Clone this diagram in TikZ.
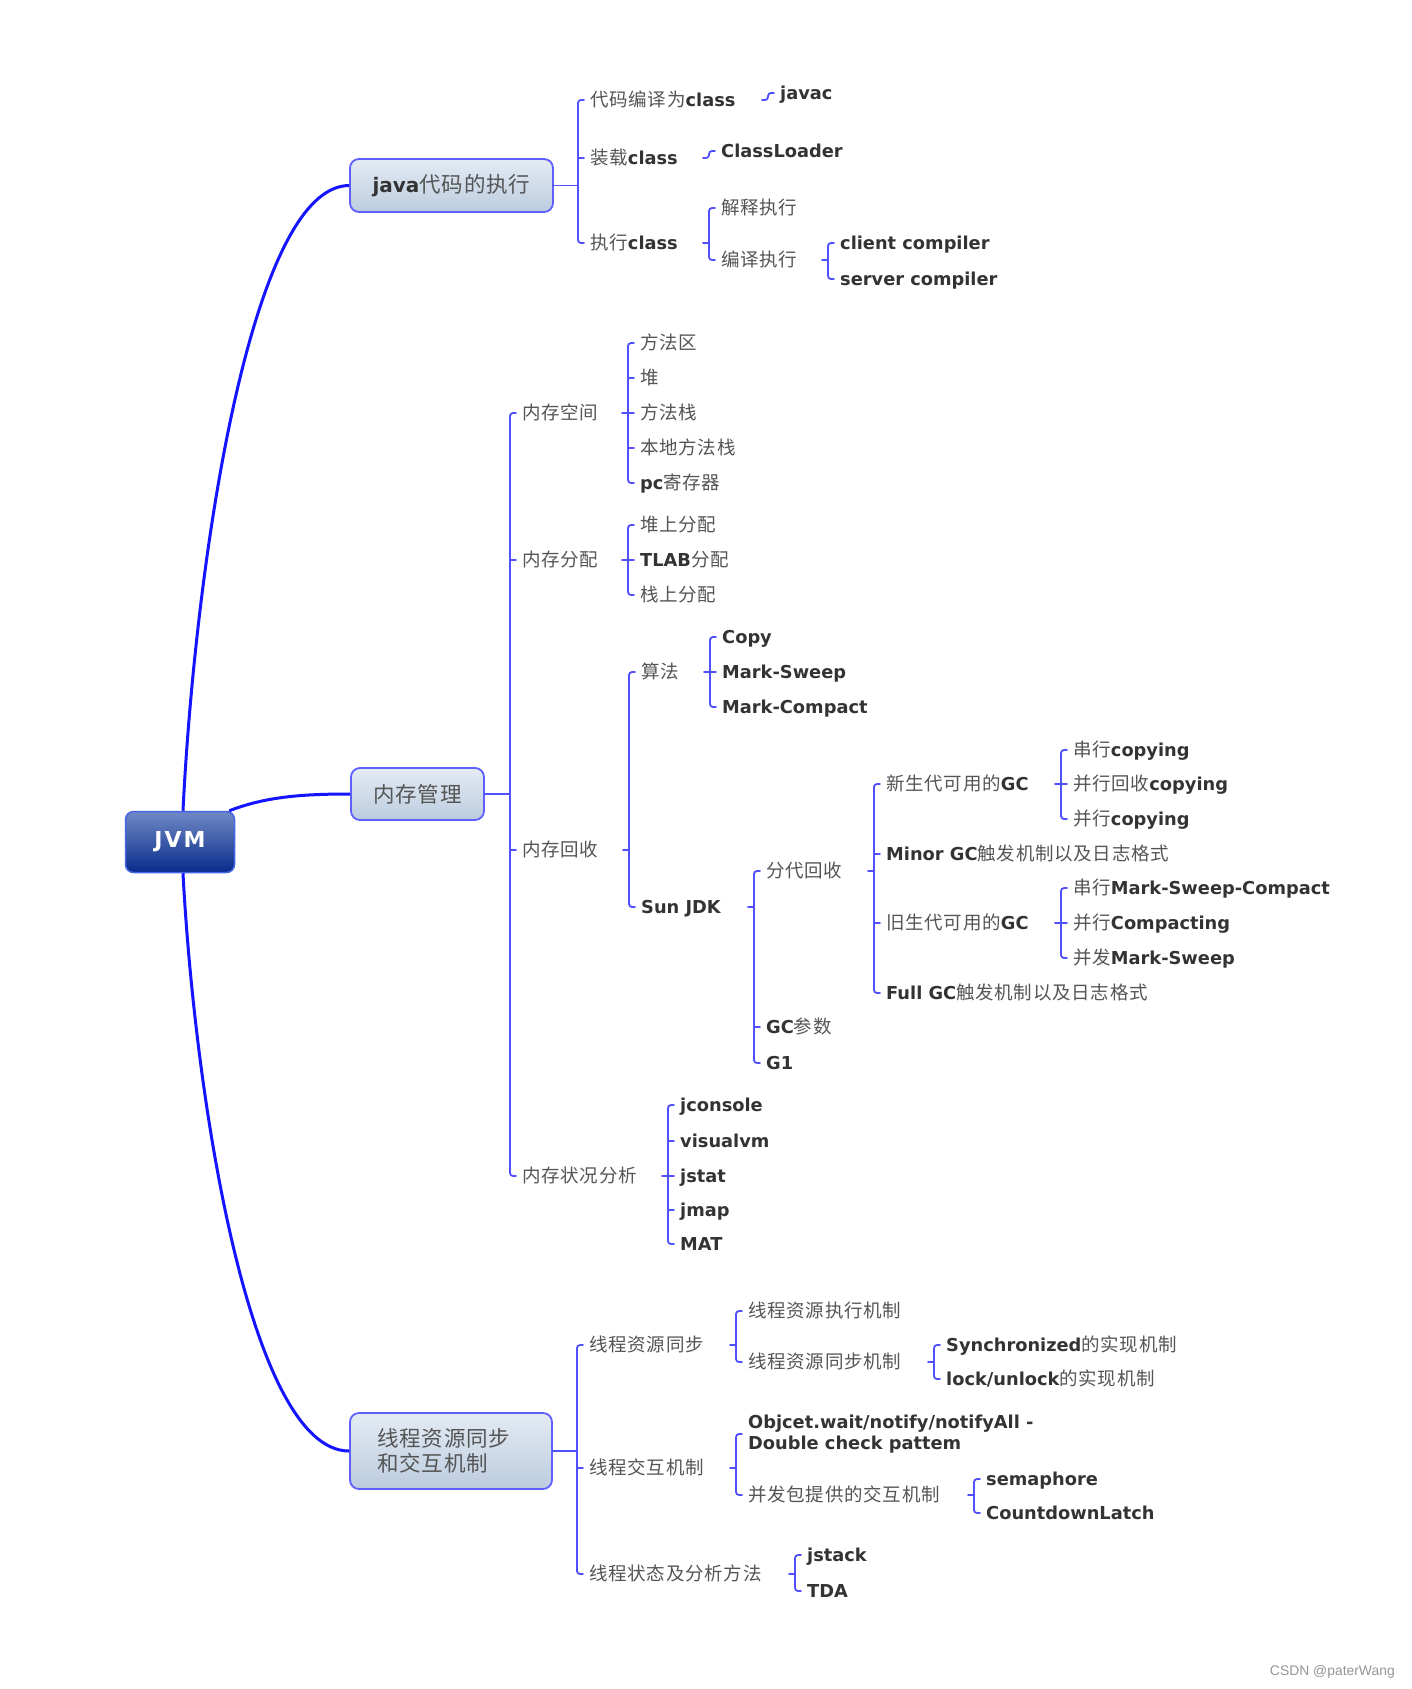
\documentclass[tikz,border=0pt]{standalone}
\usepackage{fontspec}
\setmainfont{DejaVu Sans}
\newfontfamily\cjkf[LetterSpace=4]{Noto Sans CJK SC}
\newfontfamily\wmf{Liberation Sans}
\usetikzlibrary{calc}
\definecolor{mainl}{RGB}{20,20,255}
\definecolor{brl}{RGB}{80,80,255}
\definecolor{zhc}{RGB}{85,85,85}
\definecolor{enc}{RGB}{51,51,51}
\definecolor{bxb}{RGB}{95,95,255}
\definecolor{bxt}{RGB}{228,235,243}
\definecolor{bxbot}{RGB}{188,204,223}
\definecolor{jt}{RGB}{112,136,196}
\definecolor{jm}{RGB}{28,66,156}
\definecolor{jb}{RGB}{8,44,140}
\definecolor{jbd}{RGB}{70,100,230}
\newcommand\zh[1]{{\cjkf\fontsize{18.5}{22}\selectfont\color{zhc}#1}}
\newcommand\en[1]{{\bfseries\fontsize{17.8}{21}\selectfont\color{enc}#1}}
\newcommand\bzh[1]{{\cjkf\fontsize{21.5}{25}\selectfont\color{zhc}#1}}
\newcommand\ben[1]{{\bfseries\fontsize{20}{25}\selectfont\color{enc}#1}}
% bracket: text parent, first, last, middle list
\newcommand\BrM[4]{%
 \coordinate (V) at ($(#2.west)+(-12,0)$);
 \draw[br] ($(#1.east -| V)+(-6,0)$) -- (#1.east -| V);
 \draw[br,rounded corners=3pt] ([xshift=-6pt]#2.west) -- (#2.west -| V) -- (#3.west -| V) -- ([xshift=-6pt]#3.west);
 \foreach \cc in {#4} {\draw[br] (\cc.west -| V) -- ([xshift=-6pt]\cc.west);}
}
% bracket: text parent, two children
\newcommand\BrT[3]{%
 \coordinate (V) at ($(#2.west)+(-12,0)$);
 \draw[br] ($(#1.east -| V)+(-6,0)$) -- (#1.east -| V);
 \draw[br,rounded corners=3pt] ([xshift=-6pt]#2.west) -- (#2.west -| V) -- (#3.west -| V) -- ([xshift=-6pt]#3.west);
}
% single child connector
\newcommand\BrS[2]{%
 \coordinate (V) at ($(#2.west)+(-12,0)$);
 \draw[br,rounded corners=3pt] ($(#1.east -| V)+(-6,0)$) -- (#1.east -| V) -- (#2.west -| V) -- ([xshift=-6pt]#2.west);
}
% bracket from a box parent
\newcommand\BxM[4]{%
 \coordinate (V) at ($(#2.west)+(-12,0)$);
 \draw[br] (#1.east) -- (#1.east -| V);
 \draw[br,rounded corners=3pt] ([xshift=-6pt]#2.west) -- (#2.west -| V) -- (#3.west -| V) -- ([xshift=-6pt]#3.west);
 \foreach \cc in {#4} {\draw[br] (\cc.west -| V) -- ([xshift=-6pt]\cc.west);}
}
\begin{document}
\begin{tikzpicture}[x=1pt,y=-1pt,
  lf/.style={inner sep=0pt, anchor=west, text height=17pt, text depth=4pt},
  br/.style={draw=brl, line width=1.8pt, line cap=round},
  mainc/.style={draw=mainl, line width=3pt},
  box/.style={draw=bxb, line width=1.8pt, rounded corners=9pt, top color=bxt, bottom color=bxbot, inner sep=0pt},
  jvmbox/.style={draw=jbd, line width=1.5pt, rounded corners=8pt, top color=jt, middle color=jm, bottom color=jb, inner sep=0pt,
     text=white, font=\bfseries\fontsize{22}{26}\selectfont}]
\fill[white] (0,0) rectangle (1411,1689);
\useasboundingbox (0,0) rectangle (1411,1689);

% ---- root and main boxes
\node[jvmbox, minimum width=109pt, minimum height=61pt] (jvm) at (180,842) {J\kern2pt V\kern2pt M};
\node[box, minimum width=203pt, minimum height=53pt] (b1) at (451.5,185.5) {\ben{java}\bzh{代码的执行}};
\node[box, minimum width=133pt, minimum height=52pt] (b2) at (417.5,794) {\bzh{内存管理}};
\node[box, minimum width=202pt, minimum height=76pt, align=left, text width=148pt, inner xsep=27pt,
      font=\cjkf\fontsize{21.5}{25}\selectfont, text=zhc] (b3) at (451,1451) {线程资源同步\\和交互机制};

\draw[mainc] ([xshift=3pt]jvm.north) .. controls (195,566) and (250,186) .. (b1.west);
\draw[mainc] ([xshift=-6pt]jvm.north east) .. controls (265,797) and (300,794) .. (b2.west);
\draw[mainc] ([xshift=3pt]jvm.south) .. controls (195,1100) and (250,1451) .. (b3.west);

% ---- java branch
\node[lf] (c11) at (590,100) {\zh{代码编译为}\en{class}};
\node[lf] (c12) at (590,158) {\zh{装载}\en{class}};
\node[lf] (c13) at (590,243) {\zh{执行}\en{class}};
\node[lf] (javac) at (780,93) {\en{javac}};
\node[lf] (cl) at (721,151) {\en{ClassLoader}};
\node[lf] (interp) at (721,208) {\zh{解释执行}};
\node[lf] (comp) at (721,260) {\zh{编译执行}};
\node[lf] (client) at (840,243) {\en{client compiler}};
\node[lf] (server) at (840,279) {\en{server compiler}};

\BxM{b1}{c11}{c13}{c12}
\BrS{c11}{javac}
\BrS{c12}{cl}
\BrT{c13}{interp}{comp}
\BrT{comp}{client}{server}

% ---- memory branch
\node[lf] (m1) at (522,413) {\zh{内存空间}};
\node[lf] (m2) at (522,560) {\zh{内存分配}};
\node[lf] (m3) at (522,850) {\zh{内存回收}};
\node[lf] (m4) at (522,1176) {\zh{内存状况分析}};

\node[lf] (s1) at (640,343) {\zh{方法区}};
\node[lf] (s2) at (640,378) {\zh{堆}};
\node[lf] (s3) at (640,413) {\zh{方法栈}};
\node[lf] (s4) at (640,448) {\zh{本地方法栈}};
\node[lf] (s5) at (640,483) {\en{pc}\zh{寄存器}};

\node[lf] (a1) at (640,525) {\zh{堆上分配}};
\node[lf] (a2) at (640,560) {\en{TLAB}\zh{分配}};
\node[lf] (a3) at (640,595) {\zh{栈上分配}};

\node[lf] (alg) at (641,672) {\zh{算法}};
\node[lf] (sun) at (641,907) {\en{Sun JDK}};

\node[lf] (g1a) at (722,637) {\en{Copy}};
\node[lf] (g1b) at (722,672) {\en{Mark-Sweep}};
\node[lf] (g1c) at (722,707) {\en{Mark-Compact}};

\node[lf] (gen) at (766,871) {\zh{分代回收}};
\node[lf] (gcp) at (766,1027) {\en{GC}\zh{参数}};
\node[lf] (gone) at (766,1063) {\en{G1}};

\node[lf] (young) at (886,784) {\zh{新生代可用的}\en{GC}};
\node[lf] (minor) at (886,854) {\en{Minor GC}\zh{触发机制以及日志格式}};
\node[lf] (old) at (886,923) {\zh{旧生代可用的}\en{GC}};
\node[lf] (full) at (886,993) {\en{Full GC}\zh{触发机制以及日志格式}};

\node[lf] (y1) at (1073,750) {\zh{串行}\en{copying}};
\node[lf] (y2) at (1073,784) {\zh{并行回收}\en{copying}};
\node[lf] (y3) at (1073,819) {\zh{并行}\en{copying}};

\node[lf] (o1) at (1073,888) {\zh{串行}\en{Mark-Sweep-Compact}};
\node[lf] (o2) at (1073,923) {\zh{并行}\en{Compacting}};
\node[lf] (o3) at (1073,958) {\zh{并发}\en{Mark-Sweep}};

\node[lf] (k1) at (680,1105) {\en{jconsole}};
\node[lf] (k2) at (680,1141) {\en{visualvm}};
\node[lf] (k3) at (680,1176) {\en{jstat}};
\node[lf] (k4) at (680,1210) {\en{jmap}};
\node[lf] (k5) at (680,1244) {\en{MAT}};

\BxM{b2}{m1}{m4}{m2,m3}
\BrM{m1}{s1}{s5}{s2,s3,s4}
\BrM{m2}{a1}{a3}{a2}
\BrT{m3}{alg}{sun}
\BrM{alg}{g1a}{g1c}{g1b}
\BrM{sun}{gen}{gone}{gcp}
\BrM{gen}{young}{full}{minor,old}
\BrM{young}{y1}{y3}{y2}
\BrM{old}{o1}{o3}{o2}
\BrM{m4}{k1}{k5}{k2,k3,k4}

% ---- thread branch
\node[lf] (t1) at (589,1345) {\zh{线程资源同步}};
\node[lf] (t2) at (589,1468) {\zh{线程交互机制}};
\node[lf] (t3) at (589,1574) {\zh{线程状态及分析方法}};

\node[lf] (r1) at (748,1311) {\zh{线程资源执行机制}};
\node[lf] (r2) at (748,1362) {\zh{线程资源同步机制}};
\node[lf] (q1) at (946,1345) {\en{Synchronized}\zh{的实现机制}};
\node[lf] (q2) at (946,1379) {\en{lock/unlock}\zh{的实现机制}};

\node[inner sep=0pt, anchor=west, align=left, font=\bfseries\fontsize{17.8}{21}\selectfont, text=enc] (obj) at (748,1434)
  {Objcet.wait/notify/notifyAll -\\Double check pattem};
\node[lf] (conc) at (748,1495) {\zh{并发包提供的交互机制}};
\node[lf] (p1) at (986,1479) {\en{semaphore}};
\node[lf] (p2) at (986,1513) {\en{CountdownLatch}};

\node[lf] (h1) at (807,1555) {\en{jstack}};
\node[lf] (h2) at (807,1591) {\en{TDA}};

\BxM{b3}{t1}{t3}{t2}
\BrT{t1}{r1}{r2}
\BrT{r2}{q1}{q2}
\BrT{t2}{obj}{conc}
\BrT{conc}{p1}{p2}
\BrT{t3}{h1}{h2}

% ---- watermark
\node[anchor=east, inner sep=0pt, font=\wmf\fontsize{13.9}{16}\selectfont, text={rgb,255:red,150;green,150;blue,150}] (wm) at (1395,1672) {CSDN @paterWang};
\end{tikzpicture}
\end{document}
